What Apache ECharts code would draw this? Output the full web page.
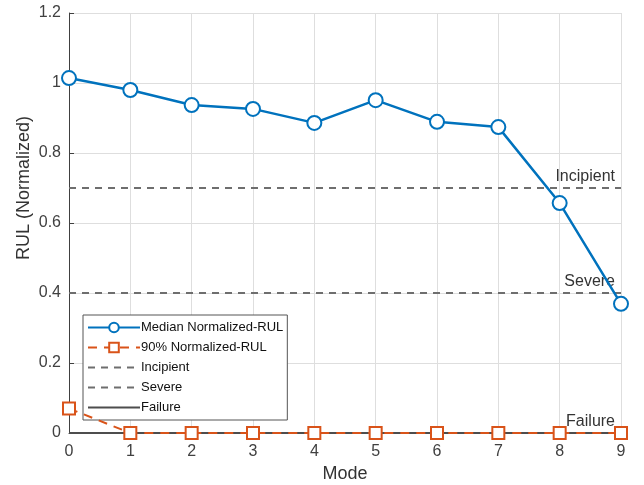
<!DOCTYPE html>
<html><head><meta charset="utf-8">
<script src="https://cdn.jsdelivr.net/npm/echarts@6/dist/echarts.min.js"></script>
<style>html,body{margin:0;padding:0;background:#fff}#c{width:644px;height:485px}</style>
</head><body><div id="c"></div>
<script>
const modes = [0,1,2,3,4,5,6,7,8,9];
const medianRUL = [1.014,0.980,0.937,0.926,0.886,0.951,0.889,0.874,0.657,0.369];
const p90RUL = [0.07,0,0,0,0,0,0,0,0,0];
const thresholdNames = ['Incipient','Severe','Failure'];
const thresholdValues = [0.7,0.4,0];
const yTicks = [0,0.2,0.4,0.6,0.8,1,1.2];

const font = 'Liberation Sans, Arial, sans-serif';
function thrSeries(i, type, color, width){
  const v = thresholdValues[i];
  return {
    name: thresholdNames[i], type:'line', symbol:'none', silent:true,
    lineStyle:{color:color, width:width, type:type},
    itemStyle:{color:color},
    data:[[modes[0],v],[modes[modes.length-1],v]],
    endLabel:{show:true, formatter:thresholdNames[i], align:'right', verticalAlign:'bottom',
      offset:[-14,-3], color:'#333', fontSize:16, fontFamily:font},
    z:1
  };
}
const hiddenSym = {color:'rgba(0,0,0,0)', borderColor:'rgba(0,0,0,0)', borderWidth:0};
const chart = echarts.init(document.getElementById('c'), null, {renderer:'canvas'});
chart.setOption({
  animation:false,
  grid:{left:69,right:23,top:13,bottom:52, outerBoundsMode:'none', containLabel:false},
  xAxis:{type:'value', min:0, max:9, interval:1, name:'Mode', nameLocation:'middle', nameGap:32,
    nameMoveOverlap:false,
    nameTextStyle:{fontSize:18, color:'#333', fontFamily:font},
    axisLine:{lineStyle:{color:'#404040', width:1}},
    axisTick:{inside:true, length:5, lineStyle:{color:'#404040'}},
    axisLabel:{fontSize:16, color:'#404040', fontFamily:font, margin:11},
    splitLine:{show:true, lineStyle:{color:'#dedede'}}},
  yAxis:{type:'value', min:0, max:1.2, interval:0.2, name:'RUL (Normalized)', nameLocation:'middle', nameGap:36,
    nameMoveOverlap:false,
    nameTextStyle:{fontSize:18, color:'#333', fontFamily:font, padding:[0,0,0,70]},
    axisLine:{show:true, lineStyle:{color:'#404040', width:1}},
    axisTick:{show:true, inside:true, length:5, lineStyle:{color:'#404040'}},
    axisLabel:{fontSize:16, color:'#404040', fontFamily:font, margin:8,
      formatter:v=>{const t=yTicks.find(x=>Math.abs(x-v)<1e-9);return t===undefined?'':String(t);}},
    splitLine:{show:true, lineStyle:{color:'#dedede'}}},
  legend:{orient:'vertical', left:83, top:315, itemWidth:52, itemHeight:12, itemGap:7,
    backgroundColor:'#fff', borderColor:'#555', borderWidth:1, borderRadius:0, padding:[6,4,6,4],
    textStyle:{fontSize:13, color:'#111', fontFamily:font, padding:[0,0,0,-4]},
    data:['Median Normalized-RUL','90% Normalized-RUL',
      {name:'Incipient', itemStyle:hiddenSym},
      {name:'Severe', itemStyle:hiddenSym},
      {name:'Failure', itemStyle:hiddenSym}]},
  series:[
    thrSeries(0,[7,6],'#6e6e6e',2),
    thrSeries(1,[7,6],'#6e6e6e',2),
    {name:'Median Normalized-RUL', type:'line', data:modes.map((m,i)=>[m,medianRUL[i]]),
      symbol:'emptyCircle', symbolSize:14, lineStyle:{color:'#0072BD', width:2.5},
      itemStyle:{color:'#0072BD', borderWidth:2.5}, z:5},
    {name:'90% Normalized-RUL', type:'line', data:modes.map((m,i)=>[m,p90RUL[i]]),
      symbol:'emptyRect', symbolSize:12, lineStyle:{color:'#D95319', width:2, type:[9,7]},
      itemStyle:{color:'#D95319', borderWidth:2.5}, z:4},
    thrSeries(2,'solid','#4d4d4d',2)
  ]
});
</script></body></html>
